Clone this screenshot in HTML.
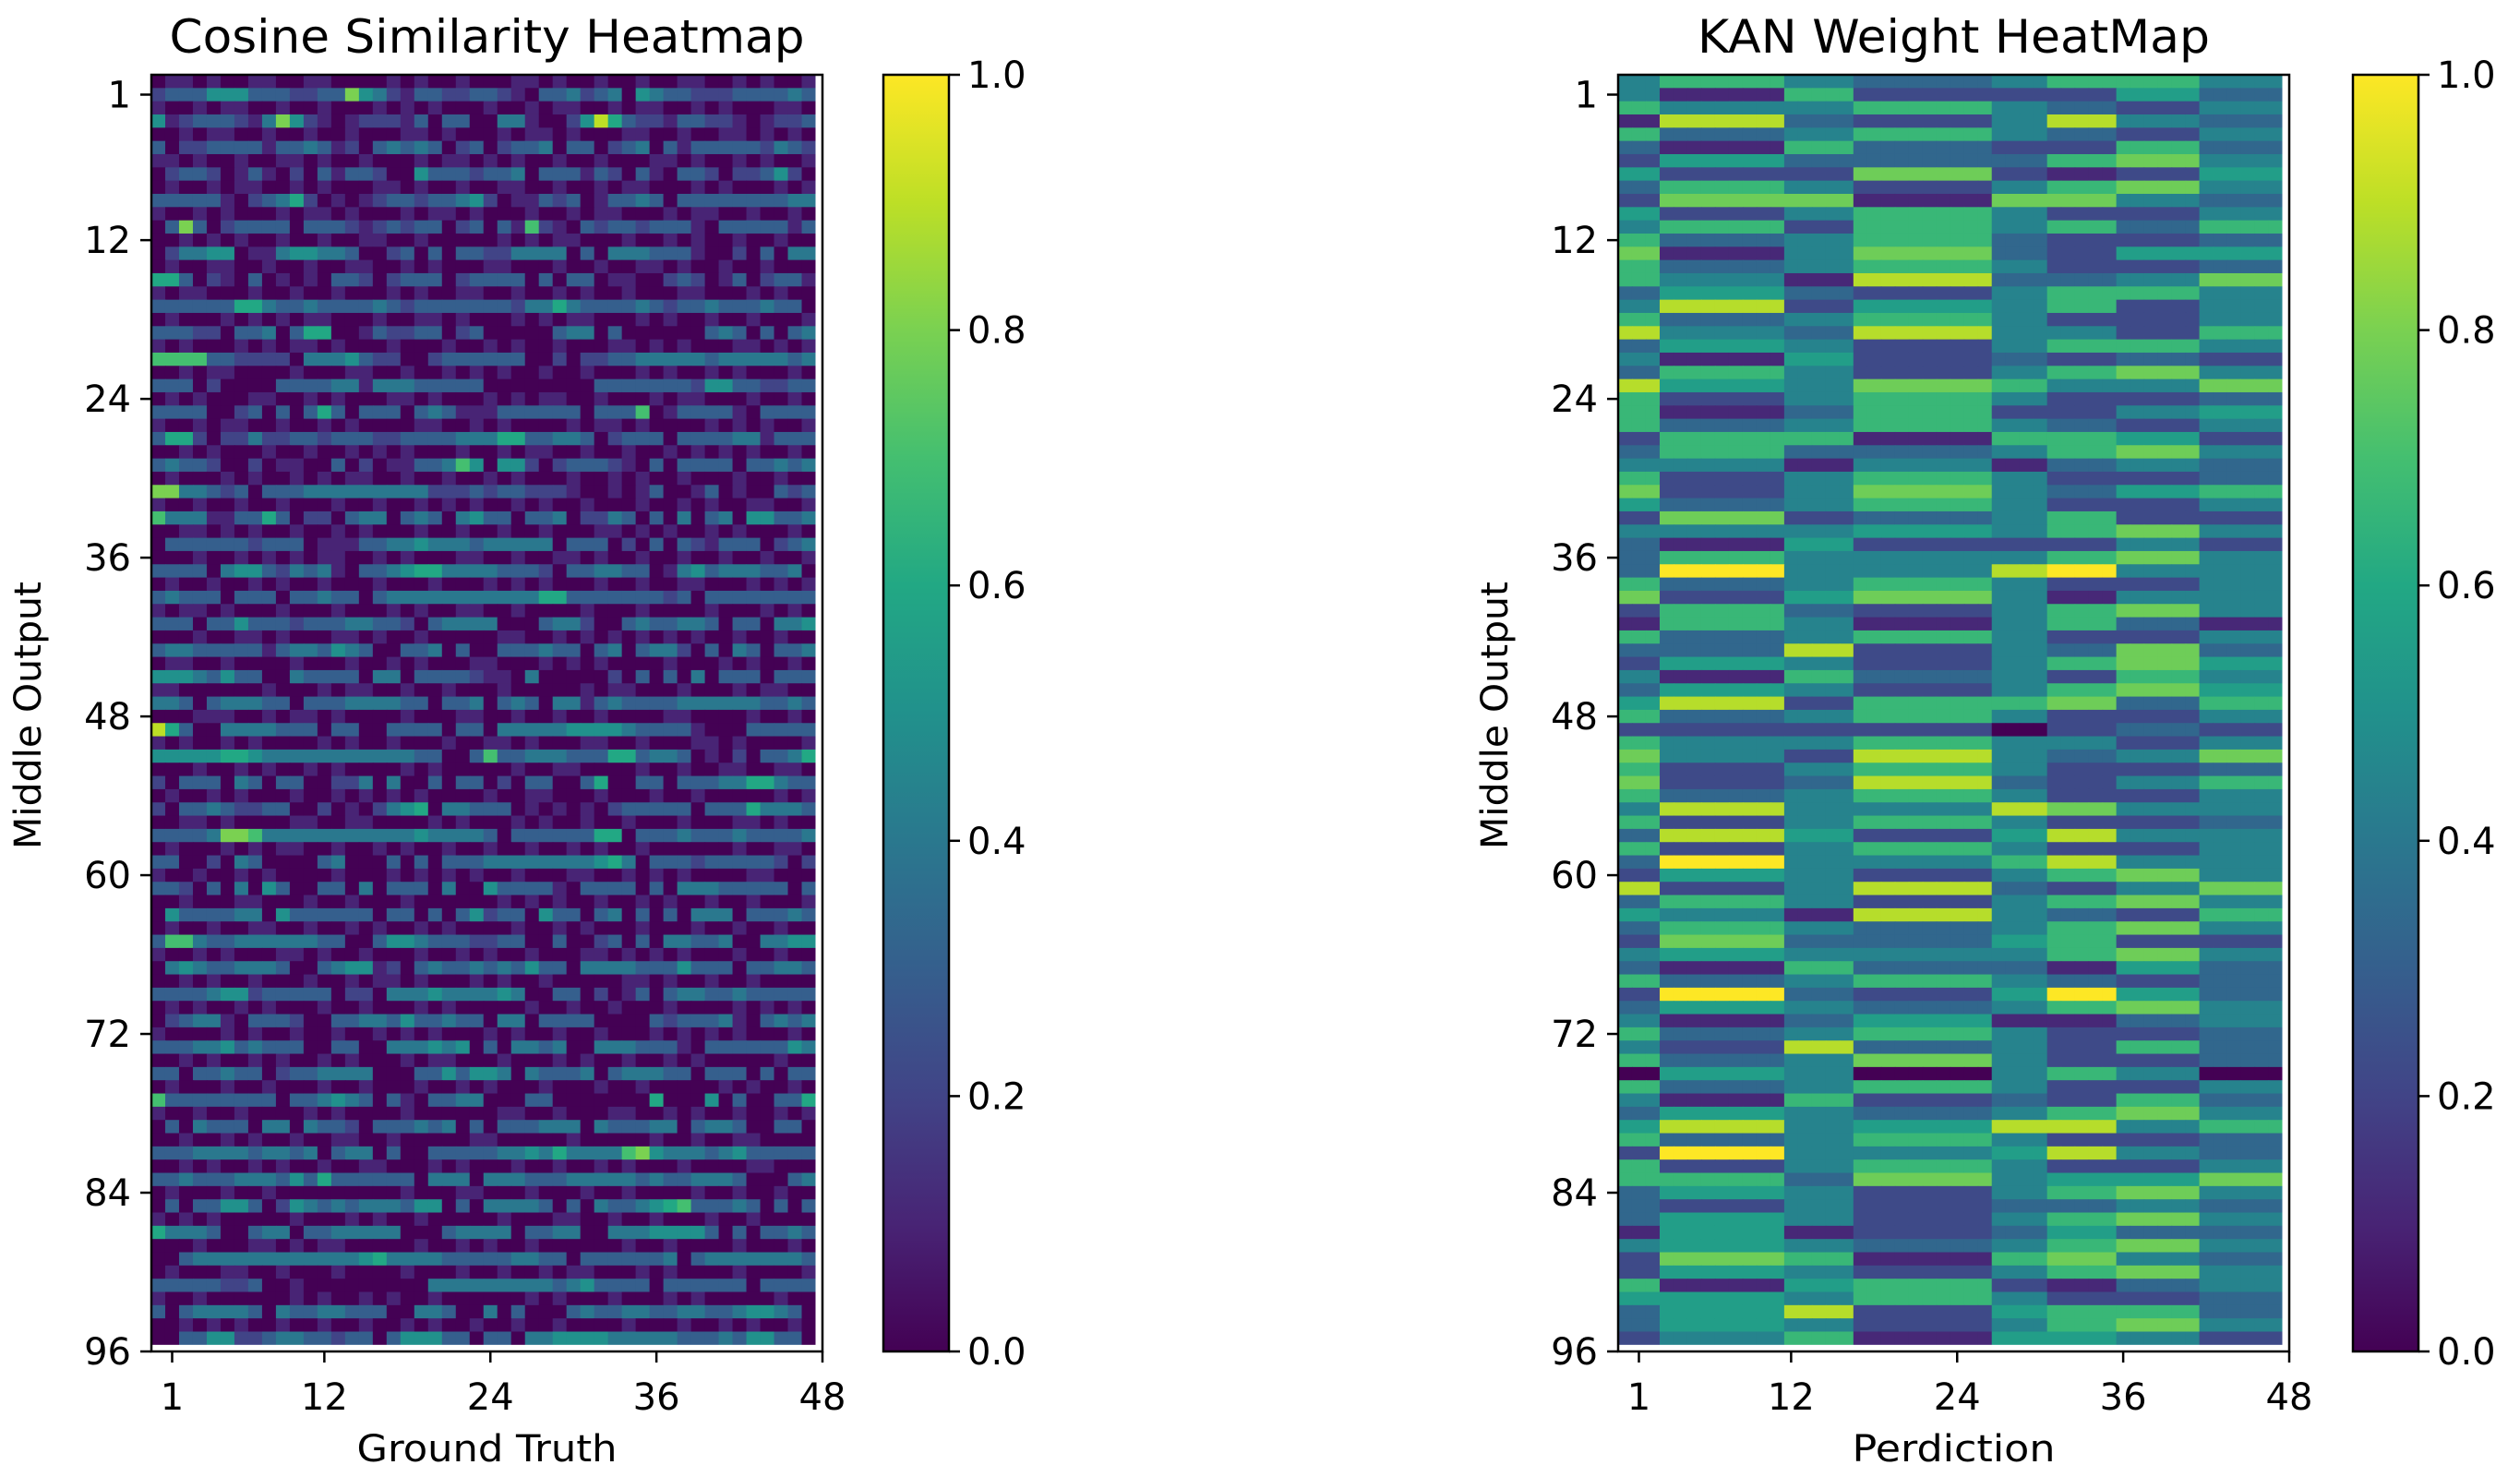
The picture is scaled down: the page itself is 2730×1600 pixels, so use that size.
<!DOCTYPE html>
<html><head><meta charset="utf-8">
<style>
html,body{margin:0;padding:0;background:#fff;}
svg{display:block;}
text{font-family:"DejaVu Sans","Liberation Sans",sans-serif;fill:#000;}
</style></head>
<body>
<svg id="fig" width="2730" height="1600" viewBox="0 0 2730 1600" xmlns="http://www.w3.org/2000/svg">
<defs>
<linearGradient id="viridis" x1="0" y1="1" x2="0" y2="0">
<stop offset="0" stop-color="#440154"/><stop offset="0.1" stop-color="#482475"/><stop offset="0.2" stop-color="#414487"/><stop offset="0.3" stop-color="#355f8d"/><stop offset="0.4" stop-color="#2a788e"/><stop offset="0.5" stop-color="#21918c"/><stop offset="0.6" stop-color="#22a884"/><stop offset="0.7" stop-color="#44bf70"/><stop offset="0.8" stop-color="#7ad151"/><stop offset="0.9" stop-color="#bddf26"/><stop offset="1" stop-color="#fde725"/>
</linearGradient>
</defs>
<g id="left"></g>
<g id="right"></g>
</svg>
<script>
// ---- data ----
const yTickLabels = [1, 12, 24, 36, 48, 60, 72, 84, 96];
const xTickLabels = [1, 12, 24, 36, 48];
const cbarTicks = [0.0, 0.2, 0.4, 0.6, 0.8, 1.0];
// cosine similarity: 96 rows x 48 cols, digit d => value d/10
const cosineRows = [
"01101001 10011000 01010010 00110100 10010011 00101001",
"23335553 33223385 42133223 32103342 34054332 22333343",
"10010110 01001000 10101000 10010110 01011001 01000110",
"51233321 48521012 22130330 04410025 96322133 22101223",
"00101100 10010010 00110100 01011010 00110010 01101010",
"30223333 13343120 34343023 02334033 02340313 33332432",
"11010010 01101001 00010110 10100100 10001101 00101001",
"02332013 10203133 20053332 33403331 32031033 20223520",
"01001011 00101000 11010010 01100100 10110001 01000101",
"33333102 34620101 23323345 20113230 13343033 33333344",
"10010100 01011010 00101101 00010010 11000101 10010010",
"03830233 33033321 23233023 03172103 23323331 03333313",
"00101010 01001001 10010000 01010110 00100101 00100100",
"02445501 14554430 02303033 22444403 04443331 00203044",
"01001100 10010011 00101000 11000100 10011010 01001000",
"66302103 01010332 02333023 33303033 01100232 01302331",
"10110001 00100100 01010011 00100101 00100011 00010100",
"33333366 43343333 43233333 33244643 33343233 43334330",
"01000101 01011000 10011010 00101011 00010100 10010001",
"33322033 40366001 32233023 00000344 03000000 34303034",
"10100010 10110100 01000100 10100100 01101010 00110101",
"77773322 22044453 22002333 33300202 23344444 34444434",
"00101100 00100011 00100101 01001001 00010100 10100010",
"33302000 03333441 44433333 00000000 33333332 55332233",
"01010001 10010100 01101000 10101100 10001011 00010010",
"33330023 03036303 33034311 13333330 33370133 33103333",
"10010110 01001010 00011001 01000010 11010000 10101001",
"36620224 22332333 22333344 46633443 02333033 33441333",
"00101000 10010010 10100010 01011001 00100101 01010010",
"34332002 01100302 01133475 05520233 32103033 33033434",
"01000101 00101011 00100100 10100010 01010010 00100100",
"88443230 33344444 44442223 23322210 01013001 30100323",
"10010010 01000100 10010101 00101001 00010010 10011001",
"74441133 63022034 40343045 33033402 24303040 34055334",
"00110101 00100101 00010010 01001000 11010100 10100010",
"03333332 33301113 34454443 44444033 30203032 13330234",
"00010010 10101100 10100011 00100110 10010010 01001001",
"33330455 32434103 34566444 43332033 44330145 34443340",
"01001001 01001000 10001000 10101000 10010011 00010101",
"34333033 30334330 34444444 44446633 33333230 33333333",
"10110100 01000100 01010011 00100001 00010000 10001010",
"33303353 33233344 33203444 40003442 00343344 30330445",
"00010011 01000110 10010000 01100101 01010101 00100100",
"34433333 13443543 00334030 03334330 34034420 30430334",
"01100100 00100010 01010001 10001010 10000100 01010010",
"55543533 00433330 44033332 11040000 02030304 03330333",
"11000000 10001011 00100100 01000001 01100010 00101100",
"44303444 33033344 44330334 03430441 34333344 44443343",
"00011100 10110100 00100011 00100100 10000110 00010010",
"96300444 43330330 03333033 04444455 55433331 00033333",
"10100101 00001010 01000100 11010001 10010001 10100001",
"55555665 44444444 44433003 73344433 36634430 10203346",
"00010010 10010100 00101000 00100110 00010010 01100110",
"20333043 03300224 04003033 02033003 60033033 34466433",
"01001010 00100101 01010000 10011000 10001001 00000101",
"20334322 33002010 24560443 33010101 02333330 33364443",
"00110100 00110011 00001010 00101001 00100010 00110100",
"33334887 44444444 44454444 30333333 66033343 33433334",
"01000101 01100100 10100100 10010010 10010000 00100110",
"33002043 00003400 03030333 44444444 56403332 33333202",
"10010010 10000100 01010101 00100011 00101010 00011000",
"33203040 53003304 03330400 53333103 33303044 43333303",
"00100011 00010010 00100000 01010100 10010100 10010001",
"05333344 05333333 03303035 23305330 34030304 44033343",
"01001001 10010010 10010100 00100101 00010001 00100100",
"37743344 44443300 35543332 23300300 23030443 34004455",
"10010100 01101001 00010010 10010001 10101010 00100100",
"04543344 43003455 12034334 34353304 44433353 33033443",
"00101001 00010010 11010001 01001000 00110100 10010000",
"33334552 33333022 04445444 45400330 20130344 33433333",
"01010010 10001001 00010100 00010010 01000100 00101010",
"02344103 33200334 43533433 04403333 00003233 34103434",
"10000101 00100100 10101000 10100100 10001010 10100010",
"33344534 33300330 04445450 30443400 44433310 33333354",
"00101001 01001010 00101100 01000101 00100101 00000100",
"33033433 02334444 00033535 54043334 03444330 33303033",
"01000100 10001001 00010010 10001000 10010000 01010010",
"73333333 30334543 03103344 00033000 00006000 50300336",
"10010010 00010100 00100000 01100100 01100101 00100101",
"03043330 44043320 33343403 03334440 43334403 44300330",
"00100101 00100110 01000001 10000010 00001001 00110000",
"33344443 44340344 03003333 34454644 44785444 34533333",
"00101001 01001001 10001010 00100100 10100010 00011000",
"33433344 43536333 33304440 44433344 44434334 44300034",
"01000100 10000000 00100011 00010001 00100001 00100100",
"03033553 02543434 44355030 44443030 43345673 33430303",
"10101000 00100010 10010000 01000110 01001000 10010000",
"64443003 44033444 44000344 44033440 04445555 30303343",
"00010001 10101100 00010010 10010000 00100100 00100010",
"00344444 44444445 64444333 33443303 33333403 44444443",
"01000110 01000100 00100010 01001011 00010100 00100001",
"33333223 00100000 00004444 44444345 33330333 33303333",
"10010000 00101001 01001000 00010100 01000101 00000100",
"30344443 04334433 30044300 40300034 33443344 33455430",
"00101010 01001001 00101001 00100100 00100010 01010010",
"00335522 34433233 03555330 33044555 54444433 34355330"
];
// KAN weight map: column index -> column group, and per-row values per group (digit d => d/9)
const kanColumnGroup = [0,0,0,1,1,1,1,1,1,1,1,1,2,2,2,2,2,3,3,3,3,3,3,3,3,3,3,4,4,4,4,5,5,5,5,5,6,6,6,6,6,6,7,7,7,7,7,7];
const kanRows = [
"46434664","41622253","64464324","18324843","63464324","31632263","25333674","52272125",
"36424674","27717743","52464224","46264636","63463223","71473255","63464223","64183347",
"35324664","48254624","63464224","84384426","35424664","41523232","36424674","85476447",
"62464223","61362245","63464324","26616652","36334674","44141343","62464223","72474356",
"53464224","27234622","44454674","31522242","36444674","39448944","63464224","72574144",
"26324674","16414631","63464224","33824373","25424675","41634264","35424675","58266736",
"63464224","22220232","64464424","74284347","62464223","72383246","63464224","48448744",
"62464223","38525844","62464224","39446844","25424674","82483247","36424674","54184326",
"36434674","27335622","45444674","31633153","63464323","29325953","35434674","41351134",
"63464223","42834263","63474223","05404640","63464224","41623263","35434674","58458846",
"63464223","29445843","62464224","66374557","35424674","32423343","35424674","15123533",
"45434674","27616743","25424674","61562134","55464223","35825663","35424674","24615542"
];

// ---- rendering ----
const NS = "http://www.w3.org/2000/svg";
const VIR = [[68,1,84],[72,36,117],[65,68,135],[53,95,141],[42,120,142],[33,145,140],[34,168,132],[68,191,112],[122,209,81],[189,223,38],[253,231,37]];
function viridis(v){
  v = Math.max(0, Math.min(1, v));
  const p = v*10, i = Math.min(9, Math.floor(p)), f = p - i;
  const a = VIR[i], b = VIR[i+1];
  return "rgb(" + [0,1,2].map(k => Math.round(a[k] + (b[k]-a[k])*f)).join(",") + ")";
}
function el(tag, attrs, parent){
  const e = document.createElementNS(NS, tag);
  for (const k in attrs) e.setAttribute(k, attrs[k]);
  parent.appendChild(e);
  return e;
}
const cosineGrid = cosineRows.map(r => r.replace(/ /g,"").split("").map(c => +c/10));
const kanGrid = kanRows.map(r => kanColumnGroup.map(g => +r[g]/9));

const AX_TOP = 81, AX_BOT = 1464, AX_W = 727;
const NROW = 96, NCOL = 48;
function panel(g, left, grid, title, titleLen, xlabel, xlabelLen, cbLeft, cellName){
  const rowH = (AX_BOT - AX_TOP) / (NROW + 0.5);
  const colW = AX_W / (NCOL + 0.5);
  const yPos = v => AX_TOP + (v + 0.5) * rowH;
  const xPos = v => left + (v + 0.5) * colW;
  const hm = el("g", {}, g);
  
  
  for (let r = 0; r < grid.length; r++){
    for (let c = 0; c < grid[r].length; c++){
      const rc = el("rect", {x: (xPos(c) - colW/2).toFixed(2), y: (yPos(r) - rowH/2).toFixed(2), width: (colW+0.6).toFixed(2), height: (rowH+0.6).toFixed(2), fill: viridis(grid[r][c])}, hm);
      
      
    }
  }
  el("rect", {x: xPos(NCOL-1)+colW/2, y: AX_TOP, width: left+AX_W - (xPos(NCOL-1)+colW/2), height: AX_BOT-AX_TOP, fill:"#fff"}, g);
  el("rect", {x: left, y: yPos(NROW-1)+rowH/2, width: AX_W, height: AX_BOT-(yPos(NROW-1)+rowH/2), fill:"#fff"}, g);
  const frame = el("rect", {x: left, y: AX_TOP, width: AX_W, height: AX_BOT-AX_TOP, fill:"none", stroke:"#000", "stroke-width":2.5}, g);
  
  
  yTickLabels.forEach(v => {
    const y = yPos(v);
    el("line", {x1:left-12, x2:left, y1:y, y2:y, stroke:"#000", "stroke-width":2.5}, g);
    const t = el("text", {x:left-22, y:y+14, "font-size":40, "text-anchor":"end"}, g);
    t.textContent = v;
    
    
  });
  xTickLabels.forEach(v => {
    const x = xPos(v);
    el("line", {x1:x, x2:x, y1:AX_BOT, y2:AX_BOT+12, stroke:"#000", "stroke-width":2.5}, g);
    const t = el("text", {x:x, y:1527, "font-size":40, "text-anchor":"middle"}, g);
    t.textContent = v;
    
    
  });
  const cx = left + AX_W/2;
  const tt = el("text", {x:cx, y:57, "font-size":50, "text-anchor":"middle", textLength:titleLen, lengthAdjust:"spacingAndGlyphs"}, g);
  tt.textContent = title;
  
  
  const xl = el("text", {x:cx, y:1583, "font-size":40, "text-anchor":"middle", textLength:xlabelLen, lengthAdjust:"spacingAndGlyphs"}, g);
  xl.textContent = xlabel;
  
  
  const yx = left - 120, yy = 775;
  const yl = el("text", {x:yx, y:yy, "font-size":40, "text-anchor":"middle", transform:"rotate(-90 "+yx+" "+yy+")", textLength:290, lengthAdjust:"spacingAndGlyphs"}, g);
  yl.textContent = "Middle Output";
  
  
  const cbW = 71;
  const cb = el("rect", {x:cbLeft, y:AX_TOP, width:cbW, height:AX_BOT-AX_TOP, fill:"url(#viridis)", stroke:"#000", "stroke-width":2.5}, g);
  
  
  const cbY = v => AX_BOT - v * (AX_BOT - AX_TOP);
  cbarTicks.forEach(v => {
    const y = cbY(v);
    el("line", {x1:cbLeft+cbW, x2:cbLeft+cbW+12, y1:y, y2:y, stroke:"#000", "stroke-width":2.5}, g);
    const t = el("text", {x:cbLeft+cbW+20, y:y+14, "font-size":40}, g);
    t.textContent = v.toFixed(1);
    
    
  });
}
panel(document.getElementById("left"), 164, cosineGrid, "Cosine Similarity Heatmap", 688, "Ground Truth", 282, 957, "cosine-cell");
panel(document.getElementById("right"), 1753, kanGrid, "KAN Weight HeatMap", 555, "Perdiction", 220, 2549, "kan-cell");
</script>
</body></html>
